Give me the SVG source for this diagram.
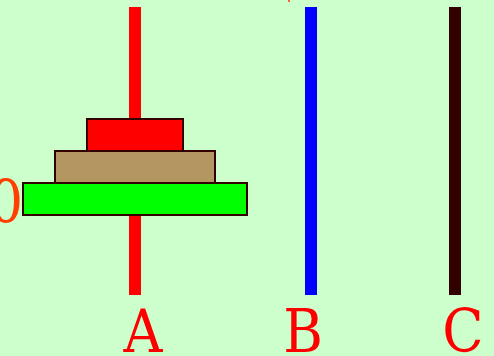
<svg xmlns="http://www.w3.org/2000/svg" width="494" height="356" viewBox="0 0 494 356">
<style>
.disk{stroke:#330000;stroke-width:2}
.lbl{font-family:"DejaVu Serif Condensed","DejaVu Serif",serif;font-stretch:condensed;font-size:60px;fill:#ff0000;text-anchor:middle}
</style>
<rect width="494" height="356" fill="#ccffcc"/>
<g id="poles">
<rect id="poleA" x="129" y="7" width="12" height="288" fill="#ff0000"/>
<rect id="poleB" x="305" y="7" width="12" height="288" fill="#0000ff"/>
<rect id="poleC" x="449" y="7" width="12" height="288" fill="#330000"/>
</g>
<g id="disk3"><rect class="disk" x="87" y="119" width="96" height="32" fill="#ff0000"/></g>
<g id="disk2"><rect class="disk" x="55" y="151" width="160" height="32" fill="#b39660"/></g>
<g id="disk1"><rect class="disk" x="23" y="183" width="224" height="32" fill="#00ff00"/></g>
<text x="6" y="223" class="lbl" style="fill:#ff4000">0</text>
<rect x="288" y="0" width="2" height="2" fill="#ff6030"/>
<text x="143" y="352" class="lbl">A</text>
<text x="303" y="352" class="lbl">B</text>
<text x="463" y="352" class="lbl">C</text>
</svg>
